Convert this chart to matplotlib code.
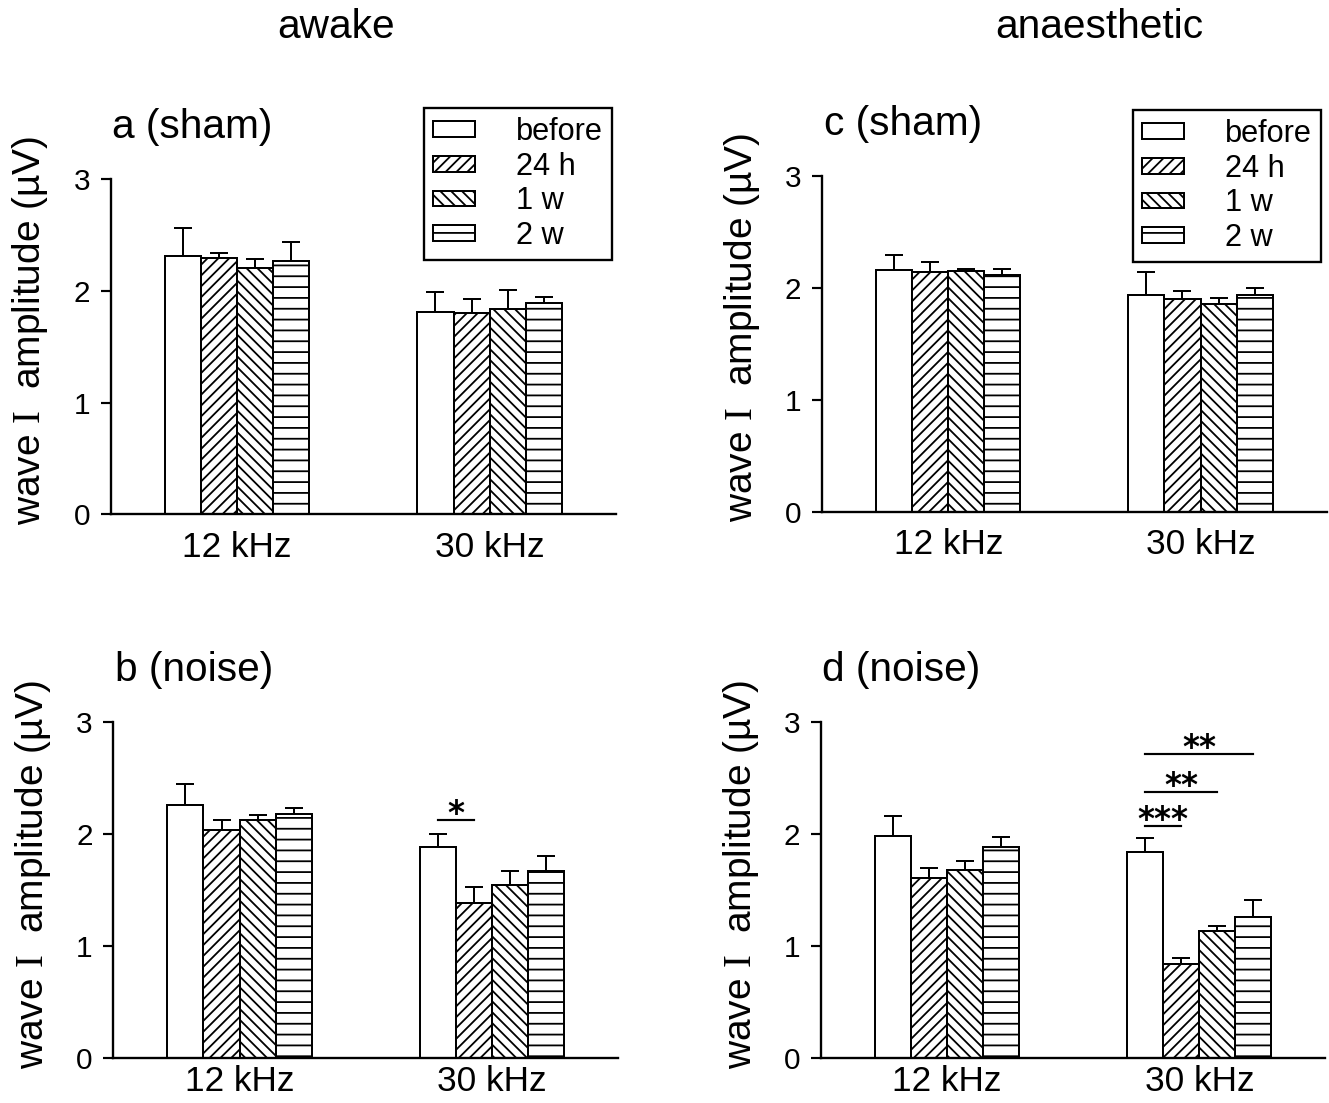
"""Wave I amplitude before / after sham or noise exposure, awake vs anaesthetic (4 panels)."""
import numpy as np
import matplotlib
matplotlib.use("Agg")
import matplotlib.pyplot as plt

plt.rcParams["font.family"] = ["Liberation Sans", "DejaVu Sans"]
plt.rcParams["mathtext.fontset"] = "custom"
plt.rcParams["mathtext.rm"] = "Liberation Serif"
plt.rcParams["hatch.linewidth"] = 1.0
plt.rcParams["hatch.color"] = "black"

groups = ["12 kHz", "30 kHz"]
conditions = ["before", "24 h", "1 w", "2 w"]
hatches = ["", "////", "\\\\\\\\", "--"]

# rows = frequency group, columns = condition
a_mean = [[2.31, 2.29, 2.20, 2.27], [1.81, 1.80, 1.84, 1.89]]
a_err = [[0.25, 0.05, 0.08, 0.17], [0.18, 0.13, 0.17, 0.05]]
b_mean = [[2.26, 2.03, 2.12, 2.18], [1.88, 1.38, 1.54, 1.67]]
b_err = [[0.18, 0.09, 0.05, 0.05], [0.12, 0.14, 0.13, 0.13]]
c_mean = [[2.16, 2.14, 2.15, 2.11], [1.94, 1.90, 1.86, 1.94]]
c_err = [[0.13, 0.09, 0.02, 0.06], [0.20, 0.07, 0.05, 0.06]]
d_mean = [[1.98, 1.60, 1.68, 1.88], [1.84, 0.84, 1.13, 1.26]]
d_err = [[0.18, 0.09, 0.08, 0.09], [0.12, 0.05, 0.05, 0.15]]

# (group, bar i, bar j, line height, stars)
b_sig = [(1, 0, 1, 2.12, "*")]
d_sig = [(1, 0, 1, 2.07, "***"), (1, 0, 2, 2.375, "**"), (1, 0, 3, 2.71, "**")]

W = 0.143
OFFS = (np.arange(4) - 1.5) * W

fig = plt.figure(figsize=(1329 / 130, 1103 / 130), dpi=130)


def panel(rect, title, mean, err, sig=(), legend_at=None, xpad=9, ylab_y=0.55):
    ax = fig.add_axes(rect)
    mean = np.array(mean)
    err = np.array(err)
    x = np.arange(1, len(groups) + 1)
    for k, cond in enumerate(conditions):
        ax.bar(x + OFFS[k], mean[:, k], W, facecolor="white", edgecolor="black",
               hatch=hatches[k], lw=1.1, label=cond, zorder=2)
        ax.errorbar(x + OFFS[k], mean[:, k], yerr=[np.zeros(len(x)), err[:, k]],
                    fmt="none", ecolor="black", elinewidth=1.1, capsize=5, capthick=1.1, zorder=1)
    for g, i, j, y, s in sig:
        x0, x1 = x[g] + OFFS[i], x[g] + OFFS[j]
        ax.plot([x0, x1], [y, y], color="black", lw=1.2)
        ax.text((x0 + x1) / 2, y - 0.035, s, ha="center", va="baseline", fontsize=18,
                family="DejaVu Sans", fontweight="bold")
    ax.set_xlim(0.5, 2.5); ax.set_ylim(0, 3)
    ax.set_xticks(x); ax.set_xticklabels(groups, fontsize=19.5)
    ax.set_yticks([0, 1, 2, 3])
    ax.tick_params(axis="x", length=0, pad=xpad)
    ax.tick_params(axis="y", length=5.5, width=1.2, pad=6, labelsize=16.5)
    for s in ("top", "right"):
        ax.spines[s].set_visible(False)
    for s in ("left", "bottom"):
        ax.spines[s].set_linewidth(1.3)
    ax.set_ylabel(r"wave $\mathrm{I}$  amplitude (µV)", fontsize=21.5)
    ax.yaxis.set_label_coords(-0.12, ylab_y)
    fig.text(rect[0] + 0.001, rect[1] + rect[3] + 0.047, title, fontsize=22.5, va="center")
    if legend_at is not None:
        leg = ax.legend(loc="upper left", bbox_to_anchor=legend_at, bbox_transform=fig.transFigure,
                        fontsize=17, frameon=True, fancybox=False, framealpha=1,
                        edgecolor="black", borderpad=0.3, borderaxespad=0,
                        handlelength=1.35, handleheight=0.42, handletextpad=1.35,
                        labelspacing=0.15)
        leg.get_frame().set_linewidth(1.3)
    return ax


panel([0.0833, 0.5337, 0.3802, 0.3040], "a (sham)", a_mean, a_err,
      legend_at=(424 / 1329, 1 - 108 / 1103))
panel([0.0853, 0.0411, 0.3798, 0.3046], "b (noise)", b_mean, b_err, sig=b_sig,
      xpad=4, ylab_y=0.545)
panel([0.6187, 0.5358, 0.3795, 0.3049], "c (sham)", c_mean, c_err,
      legend_at=(1133 / 1329, 1 - 110 / 1103))
panel([0.6178, 0.0411, 0.3795, 0.3046], "d (noise)", d_mean, d_err, sig=d_sig,
      xpad=4, ylab_y=0.545)

fig.text(336 / 1329, 1 - 27 / 1103, "awake", ha="center", va="center", fontsize=22.5)
fig.text(1099 / 1329, 1 - 27 / 1103, "anaesthetic", ha="center", va="center", fontsize=22.5)

fig.savefig("out.png", dpi=130)
